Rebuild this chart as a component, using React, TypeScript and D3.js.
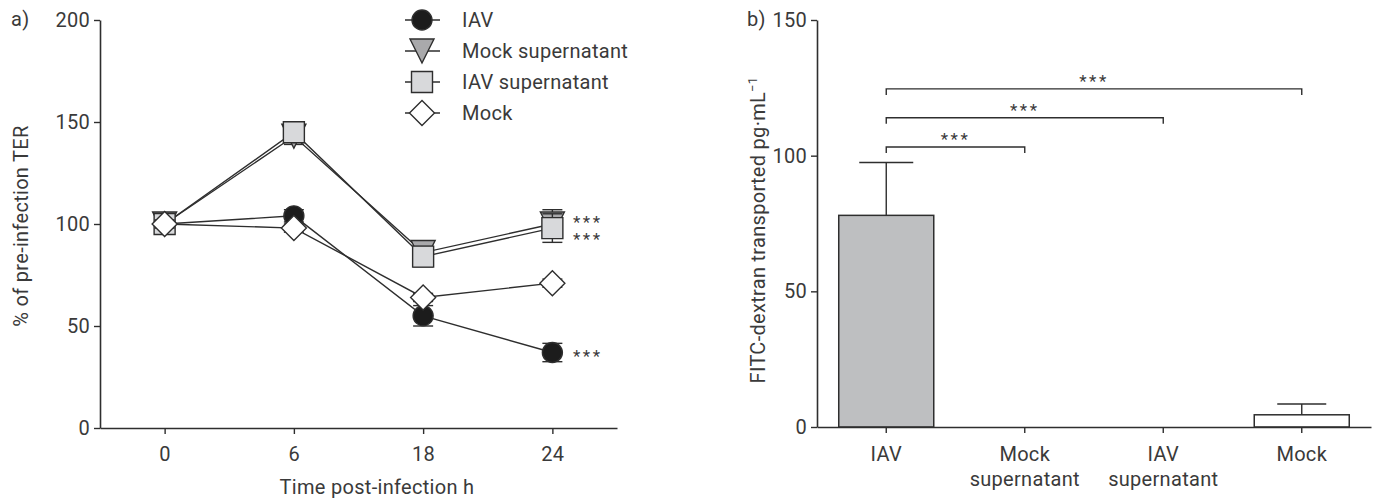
import React, { useRef, useEffect } from 'react';
import * as d3 from 'd3';

// panel a) TER time course
const timePoints = ['0', '6', '18', '24'];
const iavTer = [100, 104, 55, 37];
const iavTerErr = [3, 3, 5, 4.5];
const mockSupTer = [100, 143, 86, 100];
const mockSupTerErr = [5, 4, 5, 7];
const iavSupTer = [100, 145, 84, 98];
const iavSupTerErr = [5, 5, 5, 7];
const mockTer = [100, 98, 64, 71];
const mockTerErr = [2, 2, 2, 2];
const terTicks = [0, 50, 100, 150, 200];
// significance marks at 24 h (value level of the stars)
const terStarLevels = [102.5, 94, 37];

// panel b) FITC-dextran
const groups = ['IAV', 'Mock supernatant', 'IAV supernatant', 'Mock'];
const fitcValues = [78, 0, 0, 4.5];
const fitcErr = [19.5, 0, 0, 4];
const fitcTicks = [0, 50, 100, 150];
const compareTargets = ['Mock supernatant', 'IAV supernatant', 'Mock'];
const compareLevels = [103.2, 114, 124.6];

const FONT = 'Roboto, sans-serif';
const FS = 20;
const LS = 0.3;
const INK = '#2e2e2e';
const TEXT = '#3a3a3a';

type Shape = 'circle' | 'triangle' | 'square' | 'diamond';

function markerPath(shape: Shape) {
  if (shape === 'circle') return d3.arc()({ innerRadius: 0, outerRadius: 10, startAngle: 0, endAngle: 2 * Math.PI }) as string;
  if (shape === 'triangle') return 'M-12,-12L12,-12L0,12Z';
  if (shape === 'square') return 'M-10.5,-10.5H10.5V10.5H-10.5Z';
  return 'M0,-12.5L12.5,0L0,12.5L-12.5,0Z';
}

const series = [
  { name: 'IAV', values: iavTer, err: iavTerErr, shape: 'circle' as Shape, fill: '#1c1c1c' },
  { name: 'Mock supernatant', values: mockSupTer, err: mockSupTerErr, shape: 'triangle' as Shape, fill: '#a9a9ab' },
  { name: 'IAV supernatant', values: iavSupTer, err: iavSupTerErr, shape: 'square' as Shape, fill: '#d8d9db' },
  { name: 'Mock', values: mockTer, err: mockTerErr, shape: 'diamond' as Shape, fill: '#ffffff' },
];

if (typeof document !== 'undefined') document.body.style.margin = '0';

export default function App() {
  const svgRef = useRef<SVGSVGElement>(null);

  useEffect(() => {
    const svg = d3.select(svgRef.current);
    svg.selectAll('*').remove();

    const label = (sel: any) =>
      sel.attr('font-family', FONT).attr('font-size', FS).attr('letter-spacing', LS).attr('fill', TEXT);
    const starStyle = (sel: any) =>
      sel.attr('font-family', FONT).attr('font-size', 17).attr('letter-spacing', 2.5).attr('fill', TEXT);

    const styleAxis = (g: any) => {
      g.attr('font-family', FONT).attr('font-size', FS);
      g.select('.domain').attr('stroke', INK).attr('stroke-width', 1.6);
      g.selectAll('.tick line').attr('stroke', INK).attr('stroke-width', 1.4);
      g.selectAll('.tick text').attr('fill', TEXT).attr('letter-spacing', LS);
    };

    // ---------- panel a ----------
    const xA = d3.scalePoint().domain(timePoints).range([100, 617]).padding(0.5);
    const yA = d3.scaleLinear().domain([0, 200]).range([428, 20]);

    const a = svg.append('g');

    a.append('g')
      .attr('transform', 'translate(100,0)')
      .call(d3.axisLeft(yA).tickValues(terTicks).tickSize(6).tickSizeOuter(0).tickPadding(4))
      .call(styleAxis);

    a.append('g')
      .attr('transform', 'translate(0,428)')
      .call(d3.axisBottom(xA).tickSize(6).tickSizeOuter(0).tickPadding(13))
      .call(styleAxis);

    a.append('text').attr('x', 11).attr('y', 26).call(label).text('a)');

    a.append('text')
      .attr('transform', 'translate(28,226) rotate(-90)')
      .attr('text-anchor', 'middle')
      .call(label)
      .text('% of pre-infection TER');

    a.append('text')
      .attr('x', 377).attr('y', 494)
      .attr('text-anchor', 'middle')
      .call(label)
      .text('Time post-infection h');

    const line = d3.line<number>()
      .x((d, i) => xA(timePoints[i]) as number)
      .y(d => yA(d));

    series.forEach(s => {
      const g = a.append('g');
      g.append('path')
        .attr('d', line(s.values) as string)
        .attr('fill', 'none')
        .attr('stroke', INK)
        .attr('stroke-width', 1.4);

      s.values.forEach((v, i) => {
        const cx = xA(timePoints[i]) as number;
        const lo = yA(v - s.err[i]);
        const hi = yA(v + s.err[i]);
        g.append('line').attr('x1', cx).attr('x2', cx).attr('y1', lo).attr('y2', hi)
          .attr('stroke', INK).attr('stroke-width', 1.4);
        [lo, hi].forEach(yy => {
          g.append('line').attr('x1', cx - 10).attr('x2', cx + 10).attr('y1', yy).attr('y2', yy)
            .attr('stroke', INK).attr('stroke-width', 1.4);
        });
      });

      g.selectAll('path.m')
        .data(s.values)
        .enter().append('path')
        .attr('class', 'm')
        .attr('d', markerPath(s.shape))
        .attr('transform', (d, i) => `translate(${xA(timePoints[i])},${yA(d)})`)
        .attr('fill', s.fill)
        .attr('stroke', INK)
        .attr('stroke-width', 1.4);
    });

    // stars at 24 h, one text block with a line per level
    const starText = a.append('text').call(starStyle);
    terStarLevels.forEach(lv => {
      starText.append('tspan').attr('x', 573).attr('y', yA(lv) + 9).text('***');
    });

    // legend
    const legend = a.append('g');
    series.forEach((s, i) => {
      const ly = 20 + i * 31;
      legend.append('line').attr('x1', 405).attr('x2', 440).attr('y1', ly).attr('y2', ly)
        .attr('stroke', INK).attr('stroke-width', 1.4);
      legend.append('path')
        .attr('d', markerPath(s.shape))
        .attr('transform', `translate(422,${ly})`)
        .attr('fill', s.fill).attr('stroke', INK).attr('stroke-width', 1.4);
      legend.append('text')
        .attr('x', 462).attr('y', ly)
        .attr('dy', '0.35em')
        .call(label)
        .text(s.name);
    });

    // ---------- panel b ----------
    const xB = d3.scaleBand().domain(groups).range([817, 1371]).paddingInner(0.314).paddingOuter(0.157);
    const yB = d3.scaleLinear().domain([0, 150]).range([427, 20]);
    const b = svg.append('g');
    const center = (k: string) => (xB(k) as number) + xB.bandwidth() / 2;

    // bars
    groups.forEach((k, i) => {
      if (fitcValues[i] <= 0) return;
      const cx = center(k);
      const top = yB(fitcValues[i]);
      const errTop = yB(fitcValues[i] + fitcErr[i]);
      const capHalf = i === 0 ? 27 : 24.5;
      b.append('line').attr('x1', cx).attr('x2', cx).attr('y1', top).attr('y2', errTop)
        .attr('stroke', INK).attr('stroke-width', 1.4);
      b.append('line').attr('x1', cx - capHalf).attr('x2', cx + capHalf).attr('y1', errTop).attr('y2', errTop)
        .attr('stroke', INK).attr('stroke-width', 1.4);
      b.append('rect')
        .attr('x', xB(k) as number)
        .attr('y', top)
        .attr('width', xB.bandwidth())
        .attr('height', yB(0) - top)
        .attr('fill', i === 0 ? '#bebfc1' : '#ffffff')
        .attr('stroke', INK)
        .attr('stroke-width', 1.5);
    });

    b.append('g')
      .attr('transform', 'translate(817,0)')
      .call(d3.axisLeft(yB).tickValues(fitcTicks).tickSize(6).tickSizeOuter(0).tickPadding(4))
      .call(styleAxis);

    const xAxisB = b.append('g')
      .attr('transform', 'translate(0,427)')
      .call(d3.axisBottom(xB).tickSize(6).tickSizeOuter(0).tickFormat(() => ''))
      .call(styleAxis);
    xAxisB.selectAll('.tick text').remove();

    groups.forEach(k => {
      const words = k.split(' ');
      const t = b.append('text').attr('text-anchor', 'middle').call(label);
      words.forEach((w, j) => {
        t.append('tspan').attr('x', center(k)).attr('y', 461 + j * 25).text(w);
      });
    });

    b.append('text').attr('x', 747).attr('y', 26).call(label).text('b)');

    const yTitle = b.append('text')
      .attr('transform', 'translate(765,230) rotate(-90)')
      .attr('text-anchor', 'middle')
      .call(label);
    yTitle.append('tspan').text('FITC-dextran transported pg·mL');
    yTitle.append('tspan').attr('dy', -8).attr('font-size', 13).text('−1');

    // significance brackets
    compareTargets.forEach((k, i) => {
      const x1 = center(groups[0]);
      const x2 = center(k);
      const yy = yB(compareLevels[i]);
      b.append('path')
        .attr('d', `M${x1},${yy + 6}V${yy}H${x2}V${yy + 6}`)
        .attr('fill', 'none')
        .attr('stroke', INK)
        .attr('stroke-width', 1.4);
      b.append('text')
        .attr('x', (x1 + x2) / 2)
        .attr('y', yy - 2)
        .attr('text-anchor', 'middle')
        .call(starStyle)
        .text('***');
    });
  }, []);

  return <svg ref={svgRef} width={1376} height={498} style={{ display: 'block', background: '#fff' }} />;
}
